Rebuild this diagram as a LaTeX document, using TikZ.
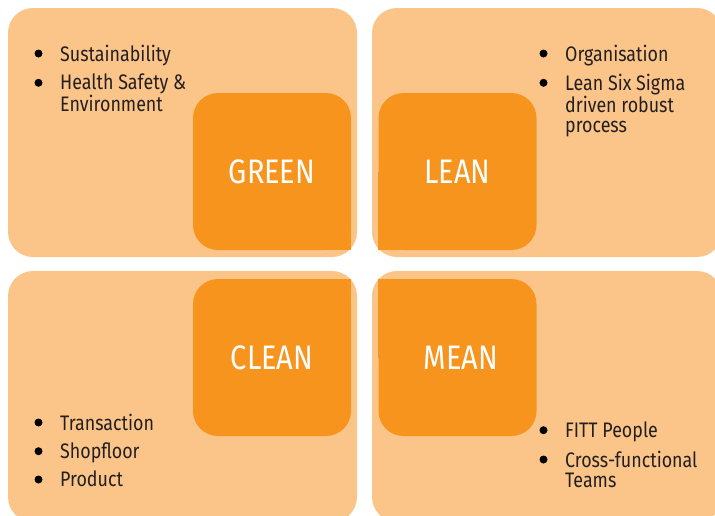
\documentclass[tikz,border=0pt]{standalone}
\usepackage{fontspec}
\setmainfont{Fira Sans}[FakeStretch=0.85]
\usetikzlibrary{calc,positioning}
\pgfdeclarelayer{bg}
\pgfsetlayers{bg,main}
\definecolor{palebox}{HTML}{FBC589}
\definecolor{darkbox}{HTML}{F7941E}
\definecolor{inktext}{HTML}{231F20}

\begin{document}
\begin{tikzpicture}[x=1pt,y=-1pt,
    pale/.style={fill=palebox, rounded corners=25pt},
    core/.style={fill=darkbox, rounded corners=25pt, minimum width=158pt,
      minimum height=157pt, inner sep=0pt, text=white,
      font=\fontsize{34}{34}\selectfont},
    % north west sits one strut above the first baseline
    item/.style={anchor=north west, yshift=14.35pt, inner sep=0pt, align=left,
      text=inktext, font=\fontsize{21}{20.5}\selectfont,
      execute at begin node=\strut},
    dot/.style={fill=black}]
  \useasboundingbox (0,0) rectangle (715,515);
  \clip (0,0) rectangle (715,515);
  % the four cores
  \node[core] (green) at (272,171.5) {GREEN};
  \node[core] (lean) at (457.5,171.5) {LEAN};
  \node[core] (clean) at (272,357.5) {CLEAN};
  \node[core] (mean) at (457.5,357.5) {\hspace*{7pt}MEAN};
  % bullet lists, placed by first baseline
  \node[item] (sust) at (60,59) {Sustainability};
  \node[item] (hse) at (60,88.3) {Health Safety \&\\Environment};
  \node[item] (org) at (565,59) {Organisation};
  \node[item] (lss) at (565,88.3) {Lean Six Sigma\\driven robust\\process};
  \node[item] (trans) at (60,428) {Transaction};
  \node[item] (shop) at (60,456.7) {Shopfloor};
  \node[item] (prod) at (60,485) {Product};
  \node[item] (fitt) at (565,435.7) {FITT People};
  \node[item] (xfun) at (565,465) {Cross-functional\\Teams};
  \foreach \n in {sust,hse,org,lss,trans,shop,prod,fitt,xfun}
    \fill[dot] ($(\n.north west)+(-21.5,8.85)$) circle (4pt);
  \begin{pgfonlayer}{bg}
    \fill[pale] (8,8) rectangle (357,257);
    \fill[pale] (372,8) rectangle (722,257);
    \fill[pale] (8,271) rectangle (357,522);
    \fill[pale] (372,271) rectangle (722,522);
    % square corners toward the middle
    \fill[darkbox] (green.center) rectangle (green.south east);
    \fill[darkbox] (lean.center) rectangle (lean.south west);
    \fill[darkbox] (clean.center) rectangle (clean.north east);
    \fill[darkbox] (mean.center) rectangle (mean.north west);
  \end{pgfonlayer}
\end{tikzpicture}
\end{document}
